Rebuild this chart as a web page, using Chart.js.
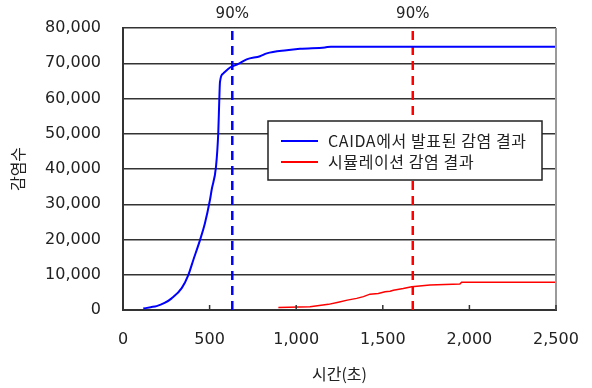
<!DOCTYPE html>
<html>
<head>
<meta charset="utf-8">
<script src="https://cdn.jsdelivr.net/npm/chart.js@4/dist/chart.umd.min.js"></script>
<style>
  html, body { margin: 0; padding: 0; background: #fff; }
  #wrap { width: 592px; height: 388px; }
</style>
</head>
<body>
<div id="wrap"><canvas id="infectChart" width="592" height="388"></canvas></div>
<script>
// 데이터
const caidaTime = [117, 160, 194, 240, 281, 339, 377, 406, 445, 473, 502, 512, 537, 550, 556, 560, 579, 618, 666, 714, 791, 830, 945, 1022, 1166, 1200, 2500];
const caidaInfected = [400, 800, 1100, 2000, 3300, 6200, 9900, 14200, 19900, 24600, 31200, 34100, 40700, 50200, 59700, 64700, 67100, 68800, 69800, 71100, 72000, 72800, 73700, 74100, 74500, 74700, 74700];

const simTime = [897, 1080, 1186, 1243, 1295, 1349, 1388, 1426, 1474, 1513, 1542, 1561, 1618, 1667, 1772, 1945, 1955, 2500];
const simInfected = [700, 900, 1600, 2200, 2800, 3300, 3800, 4500, 4700, 5200, 5300, 5600, 6100, 6600, 7100, 7400, 7900, 7900];

const seriesNames = ['CAIDA에서 발표된 감염 결과', '시뮬레이션 감염 결과'];
const markerTimes = [631, 1673];
const markerLabel = '90%';
const xTicks = [0, 500, 1000, 1500, 2000, 2500];
const yMax = 80000;

const BLUE = '#0000ff';
const RED = '#ff0000';
const FONT = '"DejaVu Sans", sans-serif';
const KFONT = '"Noto Sans CJK KR", sans-serif';

function pts(xs, ys) { return xs.map((x, i) => ({ x: x, y: ys[i] })); }

// 안쪽 눈금, 90% 라벨, 범례
const extras = {
  id: 'extras',
  afterDraw(chart) {
    const c = chart.ctx, xs = chart.scales.x, a = chart.chartArea;
    c.save();
    // 오른쪽 테두리
    c.strokeStyle = '#9a9a9a'; c.lineWidth = 2;
    c.beginPath(); c.moveTo(a.right, a.top); c.lineTo(a.right, a.bottom); c.stroke();
    // x 눈금 (안쪽)
    c.strokeStyle = '#333'; c.lineWidth = 1.5;
    xTicks.forEach(v => {
      const px = xs.getPixelForValue(v);
      c.beginPath(); c.moveTo(px, a.bottom); c.lineTo(px, a.bottom - 5); c.stroke();
    });
    // 90% 라벨
    c.fillStyle = '#222'; c.font = '15px ' + FONT; c.textAlign = 'center'; c.textBaseline = 'middle';
    markerTimes.forEach(t => c.fillText(markerLabel, xs.getPixelForValue(t), 14));
    // 범례
    const lx = 268, ly = 121, lw = 274, lh = 59;
    c.fillStyle = '#fff'; c.fillRect(lx, ly, lw, lh);
    c.strokeStyle = '#222'; c.lineWidth = 1.5; c.strokeRect(lx, ly, lw, lh);
    c.font = '16px ' + KFONT; c.textAlign = 'left';
    c.letterSpacing = '0.6px';
    [BLUE, RED].forEach((col, i) => {
      const yy = ly + 20 + i * 21;
      c.strokeStyle = col; c.lineWidth = 2;
      c.beginPath(); c.moveTo(lx + 13, yy); c.lineTo(lx + 50, yy); c.stroke();
      c.fillStyle = '#222'; c.fillText(seriesNames[i], lx + 60, yy);
    });
    c.restore();
  }
};

const ctx = document.getElementById('infectChart').getContext('2d');
const infectChart = new Chart(ctx, {
  type: 'line',
  data: {
    datasets: [
      { label: seriesNames[0], data: pts(caidaTime, caidaInfected), borderColor: BLUE, borderWidth: 2,
        pointRadius: 0, cubicInterpolationMode: 'monotone', fill: false },
      { label: seriesNames[1], data: pts(simTime, simInfected), borderColor: RED, borderWidth: 1.5,
        pointRadius: 0, fill: false },
      { label: 'm1', data: pts([markerTimes[0], markerTimes[0]], [0, yMax]), borderColor: BLUE, borderWidth: 2.5,
        borderDash: [9, 6], pointRadius: 0, fill: false },
      { label: 'm2', data: pts([markerTimes[1], markerTimes[1]], [0, yMax]), borderColor: RED, borderWidth: 2.5,
        borderDash: [9, 6], pointRadius: 0, fill: false }
    ]
  },
  options: {
    responsive: false,
    animation: false,
    layout: { padding: { top: 28, right: 36, left: 0, bottom: 0 } },
    plugins: { legend: { display: false }, tooltip: { enabled: false } },
    scales: {
      x: {
        type: 'linear', min: 0, max: 2500,
        afterBuildTicks: s => { s.ticks = xTicks.map(v => ({ value: v })); },
        afterFit: s => { s.height = 78; s.paddingLeft = 0; s.paddingRight = 0; },
        grid: { display: false },
        border: { color: '#333', width: 2 },
        ticks: { color: '#222', font: { family: FONT, size: 16 }, padding: 12, maxRotation: 0,
                 callback: v => v.toLocaleString('en-US') },
        title: { display: true, text: '시간(초)', color: '#222',
                 font: { family: KFONT, size: 16 }, padding: { top: 7 } }
      },
      y: {
        min: 0, max: yMax,
        afterFit: s => { s.width = 123; s.paddingTop = 0; s.paddingBottom = 0; },
        grid: { color: '#333', lineWidth: 1.5, drawTicks: false },
        border: { color: '#333', width: 2 },
        ticks: { stepSize: 10000, color: '#222', font: { family: FONT, size: 16 }, padding: 22,
                 callback: v => v.toLocaleString('en-US') },
        title: { display: true, text: '감염수', color: '#222',
                 font: { family: KFONT, size: 16 }, padding: { top: 8, bottom: 0 } }
      }
    }
  },
  plugins: [extras]
});
</script>
</body>
</html>
